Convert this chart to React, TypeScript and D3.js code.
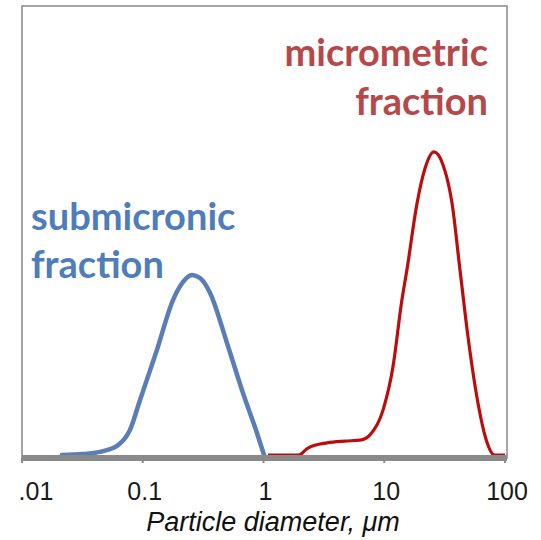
import React from "react";
import * as d3 from "d3";

const tickValues = [0.01, 0.1, 1, 10, 100];
const tickLabels = [".01", "0.1", "1", "10", "100"];

const submicronX = [0.0214, 0.032, 0.0443, 0.0624, 0.0784, 0.0948, 0.131, 0.178, 0.215, 0.256, 0.298, 0.361, 0.499, 0.676, 0.883, 1.01];
const submicronY = [0, 0.02, 0.07, 0.22, 0.56, 1.22, 2.34, 3.45, 3.85, 4.01, 3.94, 3.61, 2.49, 1.38, 0.49, 0];

const micronX = [1.09, 1.95, 2.35, 3.36, 4.73, 6.3, 7.62, 9.77, 11.8, 14.0, 15.4, 18.7, 21.8, 25.8, 30.7, 36.4, 42.4, 49.4, 59.7, 70, 82.0, 100];
const micronY = [0, 0, 0.16, 0.27, 0.31, 0.33, 0.45, 1.0, 1.96, 3.45, 4.12, 5.61, 6.39, 6.75, 6.46, 5.61, 4.12, 2.63, 1.16, 0.33, 0, 0];

const W = 541;
const H = 540;

export default function App() {
  const x = d3.scaleLog().domain([0.01, 100]).range([22, 505]);
  const y = d3.scaleLinear().domain([0, 10]).range([455, 6]);
  const line = d3
    .line<[number, number]>()
    .x((d) => x(d[0]))
    .y((d) => y(d[1]))
    .curve(d3.curveMonotoneX);
  const blue = line(submicronX.map((v, i) => [v, submicronY[i]] as [number, number])) || "";
  const red = line(micronX.map((v, i) => [v, micronY[i]] as [number, number])) || "";
  const axisY = 458;
  return (
    <svg
      width={W}
      height={H}
      style={{ position: "absolute", left: 0, top: 0, background: "#fff" }}
    >
      <rect x={22} y={6} width={485} height={axisY - 6} fill="none" stroke="#888" strokeWidth={1.5} />
      <path d={blue} fill="none" stroke="#5a7db5" strokeWidth={4.5} strokeLinejoin="round" strokeLinecap="round" />
      <path d={red} fill="none" stroke="#bb0d0d" strokeWidth={3.2} strokeLinejoin="round" />
      <line x1={22} x2={507} y1={axisY} y2={axisY} stroke="#8a8a8a" strokeWidth={6} />
      {tickValues.map((t, i) => (
        <g key={i}>
          <line x1={x(t)} x2={x(t)} y1={axisY} y2={axisY + 5} stroke="#8a8a8a" strokeWidth={2} />
          <text
            x={i === 0 ? 36 : x(t) + 2}
            y={500}
            textAnchor="middle"
            fontFamily="Liberation Sans, Arial, sans-serif"
            fontSize={25}
            fill="#1a1a1a"
          >
            {tickLabels[i]}
          </text>
        </g>
      ))}
      <text
        x={273}
        y={531}
        textAnchor="middle"
        fontFamily="Liberation Sans, Arial, sans-serif"
        fontSize={27}
        fontStyle="italic"
        fill="#111"
      >
        Particle diameter, μm
      </text>
      <g fontFamily="Lato, 'Open Sans', sans-serif" fontWeight="bold" fontSize={38}>
        <text x={488} y={66} textAnchor="end" fill="#b5494a">micrometric</text>
        <text x={488} y={115} textAnchor="end" fill="#b5494a">fraction</text>
        <text x={31} y={230} fill="#4f7dba">submicronic</text>
        <text x={31} y={278} fill="#4f7dba">fraction</text>
      </g>
    </svg>
  );
}
